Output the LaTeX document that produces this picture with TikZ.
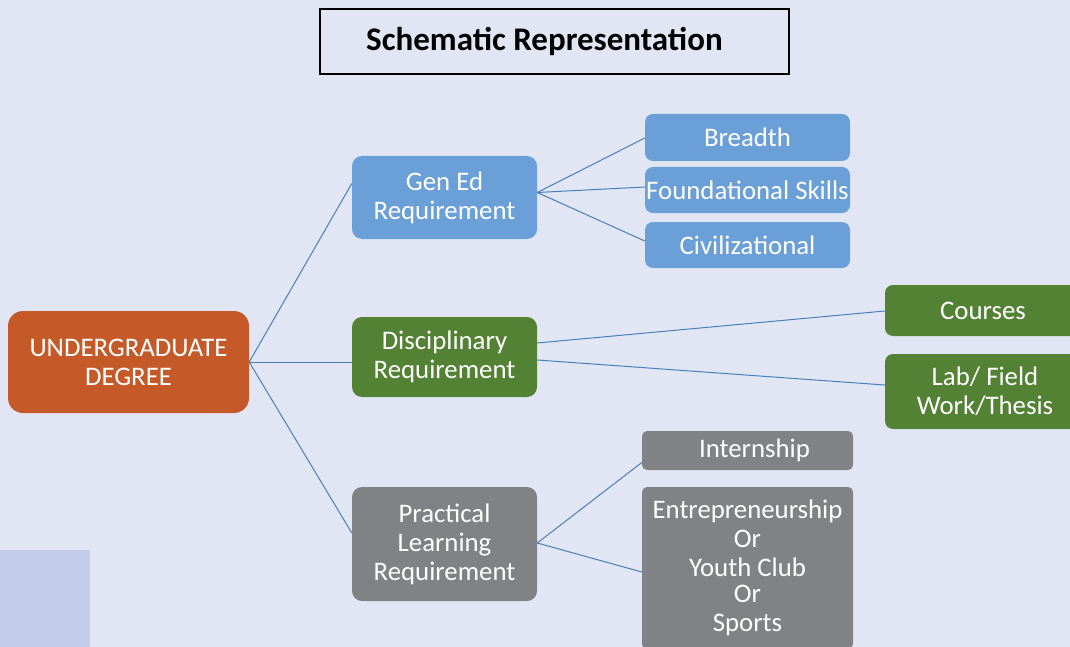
\documentclass[tikz,border=0pt]{standalone}
\usepackage{fontspec}
\setmainfont{Carlito}
\usetikzlibrary{calc}
\definecolor{bg}{HTML}{E2E6F4}
\definecolor{bgbox}{HTML}{C3CCE8}
\definecolor{orangeC}{HTML}{C55A28}
\definecolor{blueC}{HTML}{6A9FD7}
\definecolor{greenC}{HTML}{548235}
\definecolor{grayC}{HTML}{808285}
\definecolor{lineC}{HTML}{4A7EBB}
\tikzset{
  box/.style={draw=none, text=white, align=center, inner sep=0pt,
    font=\fontsize{26.8}{29}\selectfont},
  conn/.style={draw=lineC, line width=1pt},
}
\begin{document}
\begin{tikzpicture}[x=1pt,y=-1pt]
\fill[bg] (0,0) rectangle (1070,647);
\useasboundingbox (0,0) rectangle (1070,647);
\clip (0,0) rectangle (1070,647);
\fill[bgbox] (0,550) rectangle (90,647);
\node[draw=black, line width=2pt, fill=bg, minimum width=469pt, minimum height=65pt, inner sep=0pt,
  font=\fontsize{33}{40}\selectfont\bfseries] (title) at (554.5,41.5) {\hspace*{-20pt}Schematic Representation};
\node[box, fill=orangeC, rounded corners=15pt, minimum width=241pt, minimum height=102pt] (root) at (128.5,362) {UNDERGRADUATE\\DEGREE};
\node[box, fill=blueC, rounded corners=10pt, minimum width=185pt, minimum height=83pt] (gened) at (444.5,197.5) {Gen Ed\\Requirement};
\node[box, fill=greenC, rounded corners=10pt, minimum width=185pt, minimum height=80pt] (disc) at (444.5,357) {Disciplinary\\Requirement};
\node[box, fill=grayC, rounded corners=10pt, minimum width=185pt, minimum height=114pt] (prac) at (444.5,544) {Practical\\Learning\\Requirement};
\node[box, fill=blueC, rounded corners=8pt, minimum width=205pt, minimum height=47pt] (breadth) at (747.5,137.5) {Breadth};
\node[box, fill=blueC, rounded corners=8pt, minimum width=205pt, minimum height=46pt] (found) at (747.5,190) {Foundational Skills};
\node[box, fill=blueC, rounded corners=8pt, minimum width=205pt, minimum height=46pt] (civ) at (747.5,245) {Civilizational};
\node[box, fill=greenC, rounded corners=8pt, minimum width=200pt, minimum height=51pt] (courses) at (985,310.5) {\hspace*{-4pt}Courses};
\node[box, fill=greenC, rounded corners=8pt, minimum width=200pt, minimum height=75pt] (lab) at (985,391.5) {Lab/ Field\\Work/Thesis};
\node[box, fill=grayC, rounded corners=5pt, minimum width=211pt, minimum height=39pt] (intern) at (747.5,450.5) {\hspace*{14pt}Internship};
\node[box, fill=grayC, rounded corners=5pt, minimum width=211pt, minimum height=162pt] (entre) at (747.5,568) {Entrepreneurship\\Or\\Youth Club\\[-3pt]Or\\Sports};
\draw[conn] (root.east) -- ($(gened.west)+(0,-14)$);
\draw[conn] (root.east) -- ($(disc.west)+(0,5)$);
\draw[conn] (root.east) -- ($(prac.west)+(0,-11)$);
\draw[conn] ($(gened.east)+(0,-5)$) -- ($(breadth.west)+(0,0.5)$);
\draw[conn] ($(gened.east)+(0,-5)$) -- ($(found.west)+(0,-3)$);
\draw[conn] ($(gened.east)+(0,-5)$) -- ($(civ.west)+(0,-4)$);
\draw[conn] ($(disc.east)+(0,-14)$) -- ($(courses.west)+(0,0.5)$);
\draw[conn] ($(disc.east)+(0,3)$) -- ($(lab.west)+(0,-6.5)$);
\draw[conn] ($(prac.east)+(0,-1)$) -- ($(intern.west)+(0,12)$);
\draw[conn] ($(prac.east)+(0,-1)$) -- ($(entre.west)+(0,4)$);
\end{tikzpicture}
\end{document}
